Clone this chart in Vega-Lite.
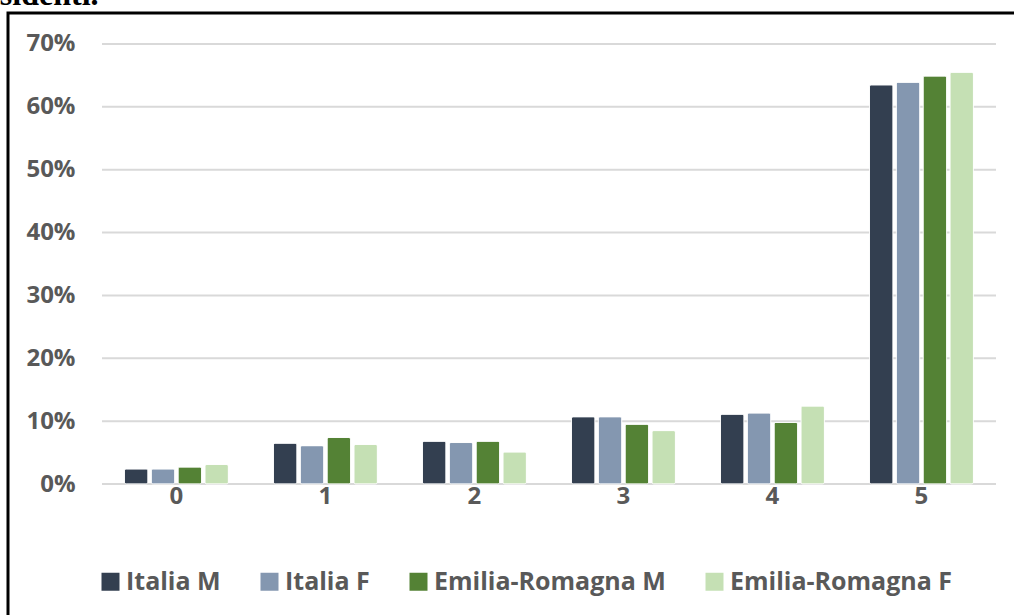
{
  "$schema": "https://vega.github.io/schema/vega-lite/v6.json",
  "width": 1010,
  "height": 610,
  "autosize": {"type": "none"},
  "padding": {"left": 8, "top": 13, "right": 0, "bottom": 0},
  "background": "white",
  "title": {
    "text": "residenti.",
    "anchor": "start",
    "font": "Liberation Serif",
    "fontSize": 32,
    "fontWeight": "bold",
    "color": "#000000",
    "baseline": "alphabetic",
    "offset": -24,
    "dx": -36
  },
  "config": {
    "view": {"stroke": "#000000", "strokeWidth": 3},
    "font": "Open Sans"
  },
  "datasets": {
    "bars": [
      {"g": "0", "s": "Italia M", "v": 0.024},
      {"g": "0", "s": "Italia F", "v": 0.024},
      {"g": "0", "s": "Emilia-Romagna M", "v": 0.027},
      {"g": "0", "s": "Emilia-Romagna F", "v": 0.031},
      {"g": "1", "s": "Italia M", "v": 0.065},
      {"g": "1", "s": "Italia F", "v": 0.061},
      {"g": "1", "s": "Emilia-Romagna M", "v": 0.074},
      {"g": "1", "s": "Emilia-Romagna F", "v": 0.063},
      {"g": "2", "s": "Italia M", "v": 0.068},
      {"g": "2", "s": "Italia F", "v": 0.066},
      {"g": "2", "s": "Emilia-Romagna M", "v": 0.068},
      {"g": "2", "s": "Emilia-Romagna F", "v": 0.051},
      {"g": "3", "s": "Italia M", "v": 0.107},
      {"g": "3", "s": "Italia F", "v": 0.107},
      {"g": "3", "s": "Emilia-Romagna M", "v": 0.095},
      {"g": "3", "s": "Emilia-Romagna F", "v": 0.085},
      {"g": "4", "s": "Italia M", "v": 0.111},
      {"g": "4", "s": "Italia F", "v": 0.113},
      {"g": "4", "s": "Emilia-Romagna M", "v": 0.098},
      {"g": "4", "s": "Emilia-Romagna F", "v": 0.124},
      {"g": "5", "s": "Italia M", "v": 0.635},
      {"g": "5", "s": "Italia F", "v": 0.639},
      {"g": "5", "s": "Emilia-Romagna M", "v": 0.649},
      {"g": "5", "s": "Emilia-Romagna F", "v": 0.655}
    ],
    "grid": [
      {"y": 0}, {"y": 0.1}, {"y": 0.2}, {"y": 0.3}, {"y": 0.4}, {"y": 0.5}, {"y": 0.6}, {"y": 0.7}
    ]
  },
  "layer": [
    {
      "data": {"name": "grid"},
      "mark": {"type": "rule", "color": "#D9D9D9", "strokeWidth": 2},
      "encoding": {
        "x": {"datum": 0, "type": "quantitative", "scale": {"domain": [-0.63087, 6.14765], "nice": false, "zero": false}, "axis": null},
        "x2": {"datum": 6},
        "y": {
          "field": "y", "type": "quantitative",
          "scale": {"domain": [-0.2211, 0.7493], "nice": false, "zero": false},
          "axis": {
            "title": null, "orient": "left", "offset": -67, "domain": false, "ticks": false, "grid": false,
            "values": [0, 0.1, 0.2, 0.3, 0.4, 0.5, 0.6, 0.7], "format": ".0%",
            "labelFontSize": 24, "labelFontWeight": "bold", "labelColor": "#595959", "labelPadding": 0,
            "labelFont": "Open Sans"
          }
        }
      }
    },
    {
      "data": {"name": "bars"},
      "mark": {"type": "bar", "stroke": "#FFFFFF", "strokeWidth": 0.8, "cornerRadius": 2},
      "encoding": {
        "x": {
          "field": "g", "type": "nominal",
          "scale": {"paddingInner": 0, "paddingOuter": 0.389, "align": 0.81},
          "axis": {
            "title": null, "orient": "bottom", "offset": -139, "domain": false, "ticks": false,
            "labelAngle": 0, "labelFontSize": 24, "labelFontWeight": "bold", "labelColor": "#595959",
            "labelPadding": 0, "labelFont": "Open Sans"
          }
        },
        "xOffset": {
          "field": "s", "type": "nominal",
          "sort": ["Italia M", "Italia F", "Emilia-Romagna M", "Emilia-Romagna F"],
          "scale": {"paddingInner": 0.123, "paddingOuter": 0.84}
        },
        "y": {
          "field": "v", "type": "quantitative",
          "scale": {"domain": [-0.2211, 0.7493], "nice": false, "zero": false},
          "axis": {
            "title": null, "orient": "left", "offset": -67, "domain": false, "ticks": false, "grid": false,
            "values": [0, 0.1, 0.2, 0.3, 0.4, 0.5, 0.6, 0.7], "format": ".0%",
            "labelFontSize": 24, "labelFontWeight": "bold", "labelColor": "#595959", "labelPadding": 0,
            "labelFont": "Open Sans"
          }
        },
        "color": {
          "field": "s", "type": "nominal",
          "sort": ["Italia M", "Italia F", "Emilia-Romagna M", "Emilia-Romagna F"],
          "scale": {
            "domain": ["Italia M", "Italia F", "Emilia-Romagna M", "Emilia-Romagna F"],
            "range": ["#333F50", "#8497B0", "#548235", "#C5E0B4"]
          },
          "legend": {
            "title": null, "orient": "bottom", "direction": "horizontal",
            "symbolType": "square", "symbolSize": 324, "symbolStrokeWidth": 0,
            "labelFontSize": 25, "labelFontWeight": "bold", "labelColor": "#595959", "labelFont": "Open Sans",
            "labelLimit": 400, "labelOffset": 3, "columnPadding": 36,
            "padding": 90, "offset": -144
          }
        }
      }
    }
  ],
  "resolve": {"scale": {"x": "independent"}}
}
